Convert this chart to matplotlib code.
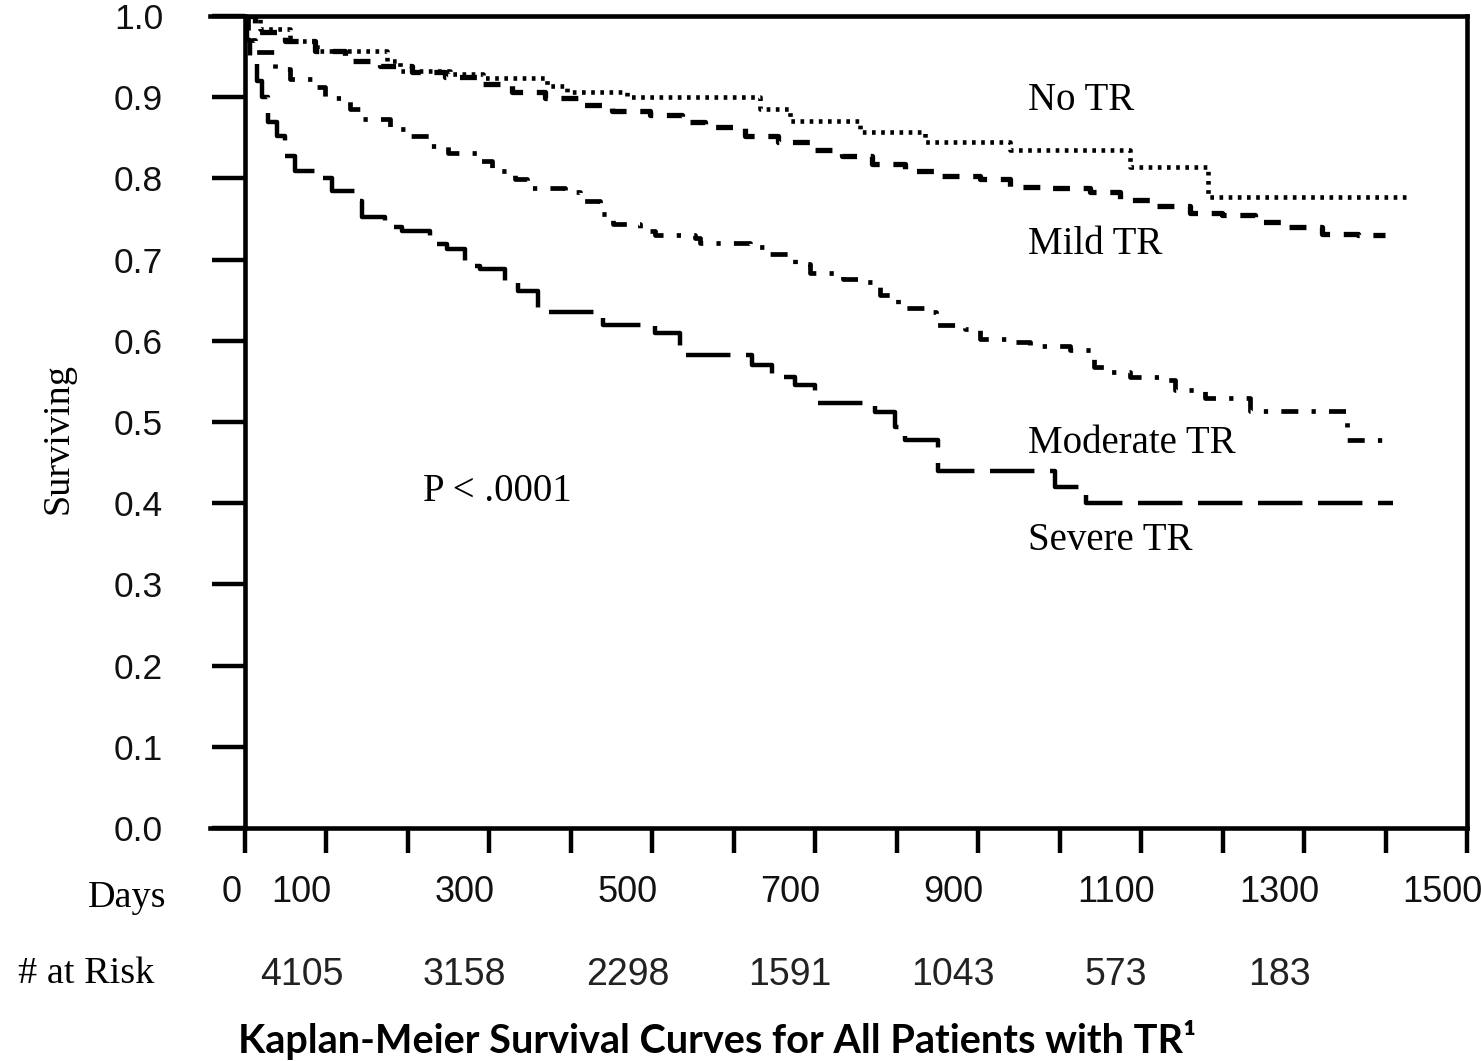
import matplotlib
matplotlib.use("Agg")
import matplotlib.pyplot as plt
import matplotlib.transforms as mtransforms

# ---------------- data ----------------
no_tr_days = [0, 18, 55, 88, 174, 190, 252, 292, 371, 395, 469, 632, 669, 755, 835, 939, 1086, 1182, 1426]
no_tr_surv = [1.0, 0.984, 0.969, 0.957, 0.945, 0.932, 0.928, 0.924, 0.914, 0.906, 0.900, 0.885, 0.871,
              0.857, 0.845, 0.835, 0.814, 0.777, 0.777]

mild_days = [0, 12, 49, 86, 123, 166, 205, 245, 288, 328, 368, 409, 450, 497, 536, 565, 614, 654, 696,
             733, 770, 810, 853, 902, 939, 986, 1037, 1074, 1117, 1160, 1199, 1240, 1280, 1322, 1366, 1399]
mild_surv = [1.0, 0.980, 0.969, 0.957, 0.945, 0.938, 0.931, 0.925, 0.916, 0.907, 0.899, 0.891, 0.883,
             0.878, 0.869, 0.863, 0.852, 0.845, 0.835, 0.828, 0.818, 0.809, 0.803, 0.799, 0.790, 0.788,
             0.783, 0.774, 0.766, 0.758, 0.755, 0.746, 0.740, 0.731, 0.730, 0.730]

mod_days = [0, 4, 12, 37, 55, 82, 98, 129, 144, 178, 196, 227, 249, 286, 303, 331, 346, 393, 411, 436,
            452, 485, 503, 552, 558, 620, 642, 675, 694, 734, 752, 779, 802, 835, 848, 884, 902, 945,
            964, 1013, 1042, 1059, 1086, 1123, 1142, 1178, 1234, 1353, 1410]
mod_surv = [1.0, 0.970, 0.956, 0.935, 0.922, 0.912, 0.899, 0.885, 0.873, 0.861, 0.852, 0.840, 0.831,
            0.821, 0.809, 0.799, 0.788, 0.783, 0.772, 0.756, 0.744, 0.735, 0.730, 0.726, 0.721, 0.716,
            0.707, 0.694, 0.684, 0.676, 0.672, 0.657, 0.641, 0.635, 0.620, 0.614, 0.602, 0.598, 0.593,
            0.589, 0.568, 0.561, 0.556, 0.552, 0.540, 0.530, 0.513, 0.478, 0.478]

sev_days = [0, 2, 6, 15, 21, 28, 39, 49, 61, 95, 107, 135, 144, 172, 193, 227, 248, 270, 288, 319, 335,
            360, 439, 503, 534, 622, 647, 675, 700, 773, 798, 810, 851, 994, 1032, 1409]
sev_surv = [1.0, 0.970, 0.950, 0.920, 0.900, 0.870, 0.852, 0.827, 0.809, 0.800, 0.784, 0.772, 0.753,
            0.740, 0.735, 0.719, 0.713, 0.692, 0.688, 0.672, 0.661, 0.636, 0.620, 0.610, 0.583, 0.570,
            0.556, 0.545, 0.524, 0.512, 0.494, 0.478, 0.440, 0.420, 0.400, 0.400]

x_ticks = list(range(0, 1501, 100))
x_labels = ["0", "100", "", "300", "", "500", "", "700", "", "900", "", "1100", "", "1300", "", "1500"]
y_ticks = [i / 10 for i in range(11)]

risk_days = [100, 300, 500, 700, 900, 1100, 1300]
risk_counts = [4105, 3158, 2298, 1591, 1043, 573, 183]

# ---------------- figure ----------------
W, H = 1481, 1061
fig = plt.figure(figsize=(W / 100, H / 100), dpi=100)
ax = fig.add_axes([210 / W, 1 - 828 / H, (1467 - 210) / W, (828 - 16) / H])
ax.set_xlim(-43, 1500)
ax.set_ylim(0, 1.0)

serif = "Liberation Serif"
sans = "Liberation Sans"
for s in ax.spines.values():
    s.set_linewidth(3.3)
ax.spines["left"].set_position(("data", 0))

ax.step(no_tr_days, no_tr_surv, where="post", color="black", lw=3.3,
        linestyle=(0, (0.8, 1.2)))
ax.step(mild_days, mild_surv, where="post", color="black", lw=3.8,
        linestyle=(0, (3.2, 2.6)))
ax.step(mod_days, mod_surv, where="post", color="black", lw=3.4,
        linestyle=(0, (3.6, 2.8, 0.9, 2.8)))
ax.step(sev_days, sev_surv, where="post", color="black", lw=3.2,
        linestyle=(0, (10.0, 3.5)))

ax.set_yticks(y_ticks)
ax.set_yticklabels([f"{v:.1f}" for v in y_ticks], fontfamily=sans, fontsize=25.5, color="#111111")
ax.tick_params(axis="y", direction="out", length=24, width=3.2, pad=35)

ax.set_xticks(x_ticks)
ax.set_xticklabels(x_labels, fontfamily=sans, fontsize=26, color="#111111")
ax.tick_params(axis="x", direction="out", length=18, width=3.2, pad=16)
for lab in ax.get_xticklabels():
    dx = -13 if lab.get_text() == "0" else -25
    lab.set_transform(lab.get_transform() + mtransforms.ScaledTranslation(dx / 100, 0, fig.dpi_scale_trans))

# risk table
risk_tr = mtransforms.blended_transform_factory(ax.transData, fig.transFigure) + \
    mtransforms.ScaledTranslation(-25 / 100, 0, fig.dpi_scale_trans)
for d, c in zip(risk_days, risk_counts):
    ax.text(d, 1 - 975 / H, str(c), transform=risk_tr, ha="center", va="center",
            fontfamily=sans, fontsize=27, color="#222222")

fig.text(166 / W, 1 - 898 / H, "Days", ha="right", va="center", fontfamily=serif, fontsize=27.5)
fig.text(18 / W, 1 - 974 / H, "# at Risk", ha="left", va="center", fontfamily=serif, fontsize=27.5)
fig.text(58 / W, 1 - 438 / H, "Surviving", rotation=90, ha="center", va="center",
         fontfamily=serif, fontsize=27.5)

# curve labels
lab_kw = dict(ha="left", va="center", fontfamily=serif, fontsize=28)
ax.text(961, 0.896, "No TR", **lab_kw)
ax.text(961, 0.719, "Mild TR", **lab_kw)
ax.text(961, 0.473, "Moderate TR", **lab_kw)
ax.text(961, 0.354, "Severe TR", **lab_kw)
ax.text(218, 0.414, "P < .0001", **lab_kw)

fig.text(717 / W, 1 - 1040 / H, "Kaplan-Meier Survival Curves for All Patients with TR\u00b9",
         ha="center", va="center", fontfamily="Lato", fontweight="bold", fontsize=28.5)

fig.savefig("out.png", dpi=100)
